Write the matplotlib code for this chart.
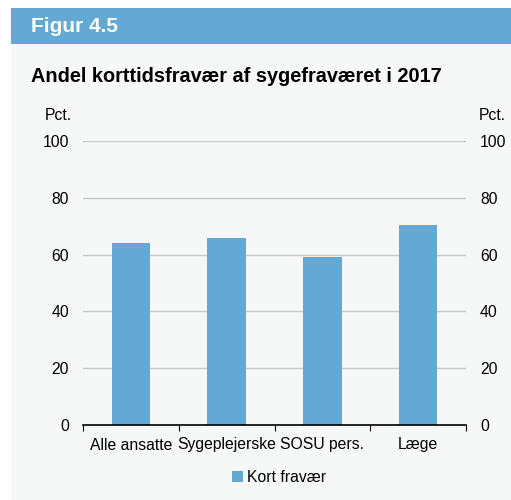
import matplotlib.pyplot as plt
from matplotlib.patches import Rectangle

categories = ['Alle ansatte', 'Sygeplejerske', 'SOSU pers.', 'Læge']
kort_fravaer = [64, 66, 59, 70.5]
yticks = [0, 20, 40, 60, 80, 100]

blue = '#63a9d4'
bg = '#f6f8f8'

plt.rcParams['font.family'] = ['Liberation Sans', 'DejaVu Sans']

W, H = 511, 500
fig = plt.figure(figsize=(W / 100, H / 100), dpi=100)
fig.patch.set_facecolor('white')

# panel background and header band
fig.patches.append(Rectangle((11 / W, 0), 1 - 11 / W, 1 - 44 / H,
                             transform=fig.transFigure, facecolor=bg, edgecolor='none', zorder=-2))
fig.patches.append(Rectangle((11 / W, 1 - 44 / H), 1 - 11 / W, 36 / H,
                             transform=fig.transFigure, facecolor=blue, edgecolor='none', zorder=-2))
fig.text(31 / W, 1 - 27 / H, 'Figur 4.5', color='white', fontsize=15,
         fontweight='bold', va='center', ha='left')
fig.text(31 / W, 1 - 76 / H, 'Andel korttidsfravær af sygefraværet i 2017', color='black',
         fontsize=14.3, fontweight='bold', va='center', ha='left')

x0, x1 = 83 / W, 466 / W
y0, y1 = 1 - 425 / H, 1 - 141 / H
ax = fig.add_axes([x0, y0, x1 - x0, y1 - y0])
ax.set_zorder(2)
ax.set_facecolor('none')

pos = range(len(categories))
ax.bar(pos, kort_fravaer, width=0.4, color=blue, zorder=3, label='Kort fravær')
ax.set_xlim(-0.5, len(categories) - 0.5)
ax.set_ylim(0, 100)
ax.set_yticks(yticks)
for v in yticks[1:]:
    ax.axhline(v, color='#c8c8c8', lw=1, zorder=1)

for s in ['top', 'left', 'right']:
    ax.spines[s].set_visible(False)
ax.spines['bottom'].set_color('black')
ax.spines['bottom'].set_linewidth(1.2)
ax.spines['bottom'].set_zorder(4)

ax.set_xticks([i - 0.5 for i in range(len(categories) + 1)])
ax.set_xticklabels([])
ax.set_xticks(list(pos), minor=True)
ax.set_xticklabels(categories, minor=True, fontsize=11.3)
ax.tick_params(axis='x', which='major', length=4, direction='out', color='black')
ax.tick_params(axis='x', which='minor', length=0, pad=9)
ax.tick_params(axis='y', length=0, labelsize=11.3, pad=10, left=True, right=True,
               labelleft=True, labelright=True)

fig.text(58 / W, 1 - 115 / H, 'Pct.', fontsize=11.3, ha='center', va='center')
fig.text(492 / W, 1 - 115 / H, 'Pct.', fontsize=11.3, ha='center', va='center')

leg = fig.legend(loc='center', bbox_to_anchor=(279 / W, 1 - 477 / H), frameon=False,
                 fontsize=11.3, handlelength=0.7, handleheight=0.7, handletextpad=0.3)

fig.savefig('out.png', dpi=100, facecolor=fig.get_facecolor())
